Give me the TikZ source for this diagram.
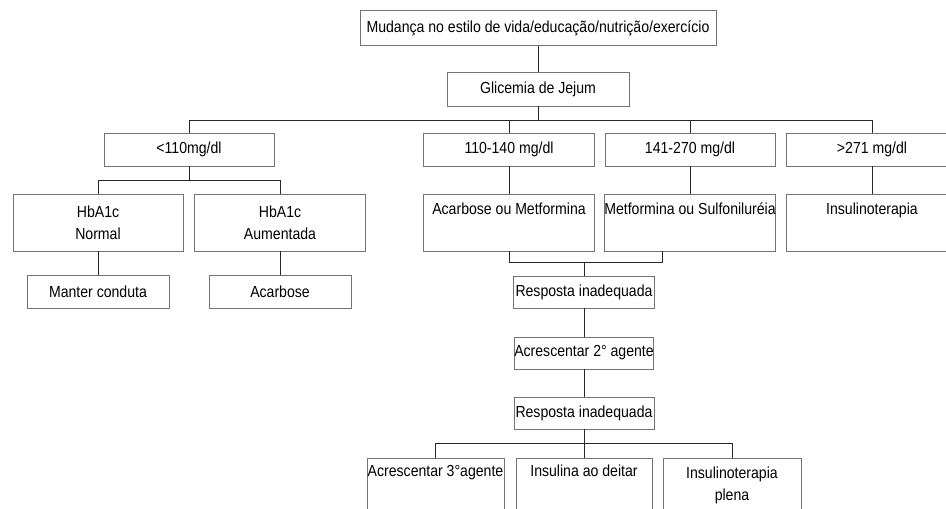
\documentclass[tikz,border=0pt]{standalone}
\usepackage{fontspec}
\setmainfont[FakeStretch=0.88]{Liberation Sans}
\usepackage{tikz}
\usetikzlibrary{positioning}

\begin{document}
\begin{tikzpicture}[x=1pt, y=-1pt,
    box/.style={
        rectangle, draw=black!55, line width=0.5pt, inner sep=0pt,
        align=center, font=\fontsize{16}{22}\selectfont
    },
    sbox/.style={box, minimum height=33pt},
    tbox/.style={box, minimum height=57pt},
    link/.style={line width=0.8pt, black!85}
]

\clip (0,0) rectangle (946,509);

\node[box, minimum width=356pt, minimum height=35pt] (top) at (538,28) {Mudança no estilo de vida/educação/nutrição/exercício};
\node[box, minimum width=182pt, minimum height=34pt] (glic) at (538,89) {Glicemia de Jejum};

\node[sbox, minimum width=170pt] (lt110) at (189,149.5) {<110mg/dl};
\node[sbox, minimum width=171pt] (r110)  at (509,149.5) {110-140 mg/dl};
\node[sbox, minimum width=170pt] (r141)  at (690,149.5) {141-270 mg/dl};
\node[sbox, minimum width=172pt] (gt271) at (872,149.5) {>271 mg/dl};

\node[tbox, minimum width=170pt] (hbn) at (98,222.5)  {HbA1c\\Normal};
\node[tbox, minimum width=171pt] (hba) at (280,222.5) {HbA1c\\Aumentada};
\node[tbox, minimum width=171pt] (am)  at (509,222.5) {Acarbose ou Metformina\\\strut};
\node[tbox, minimum width=170pt] (ms)  at (690,222.5) {Metformina ou Sulfoniluréia\\\strut};
\node[tbox, minimum width=172pt] (ins) at (872,222.5) {Insulinoterapia\\\strut};

\node[sbox, minimum width=142pt] (manter) at (98,291.5)  {Manter conduta};
\node[sbox, minimum width=142pt] (acarb)  at (280,291.5) {Acarbose};

\node[box, minimum width=141pt, minimum height=32pt] (resp1) at (584,292) {Resposta inadequada};
\node[box, minimum width=139pt, minimum height=32pt] (ac2)   at (584,353) {Acrescentar 2° agente};
\node[box, minimum width=140pt, minimum height=32pt] (resp2) at (584,413) {Resposta inadequada};

\node[box, minimum width=137pt, minimum height=54pt] (ac3)  at (435.5,485) {Acrescentar 3°agente\\\strut};
\node[box, minimum width=136pt, minimum height=54pt] (insd) at (584,485)   {Insulina ao deitar\\\strut};
\node[box, minimum width=138pt, minimum height=54pt] (insp) at (732,485)   {Insulinoterapia\\plena};

\coordinate (b1) at (0,120);
\coordinate (b2) at (0,180);
\coordinate (b3) at (662,262);
\coordinate (b4) at (0,443);

\draw[link] (top.south) -- (glic.north);
\draw[link] (glic.south) -- (glic.south |- b1);
\draw[link] (lt110.north) |- (gt271.north |- b1) -- (gt271.north);
\draw[link] (r110.north) -- (r110.north |- b1);
\draw[link] (r141.north) -- (r141.north |- b1);

\draw[link] (lt110.south) -- (lt110.south |- b2);
\draw[link] (hbn.north) |- (hba.north |- b2) -- (hba.north);
\draw[link] (hbn.south) -- (manter.north);
\draw[link] (hba.south) -- (acarb.north);

\draw[link] (r110.south) -- (am.north);
\draw[link] (r141.south) -- (ms.north);
\draw[link] (gt271.south) -- (ins.north);

\draw[link] (am.south) |- (b3) -- (b3 |- ms.south);
\draw[link] (resp1.north) -- (resp1.north |- b3);
\draw[link] (resp1.south) -- (ac2.north);
\draw[link] (ac2.south) -- (resp2.north);

\draw[link] (resp2.south) -- (insd.north);
\draw[link] (ac3.north) |- (insp.north |- b4) -- (insp.north);

\end{tikzpicture}
\end{document}
